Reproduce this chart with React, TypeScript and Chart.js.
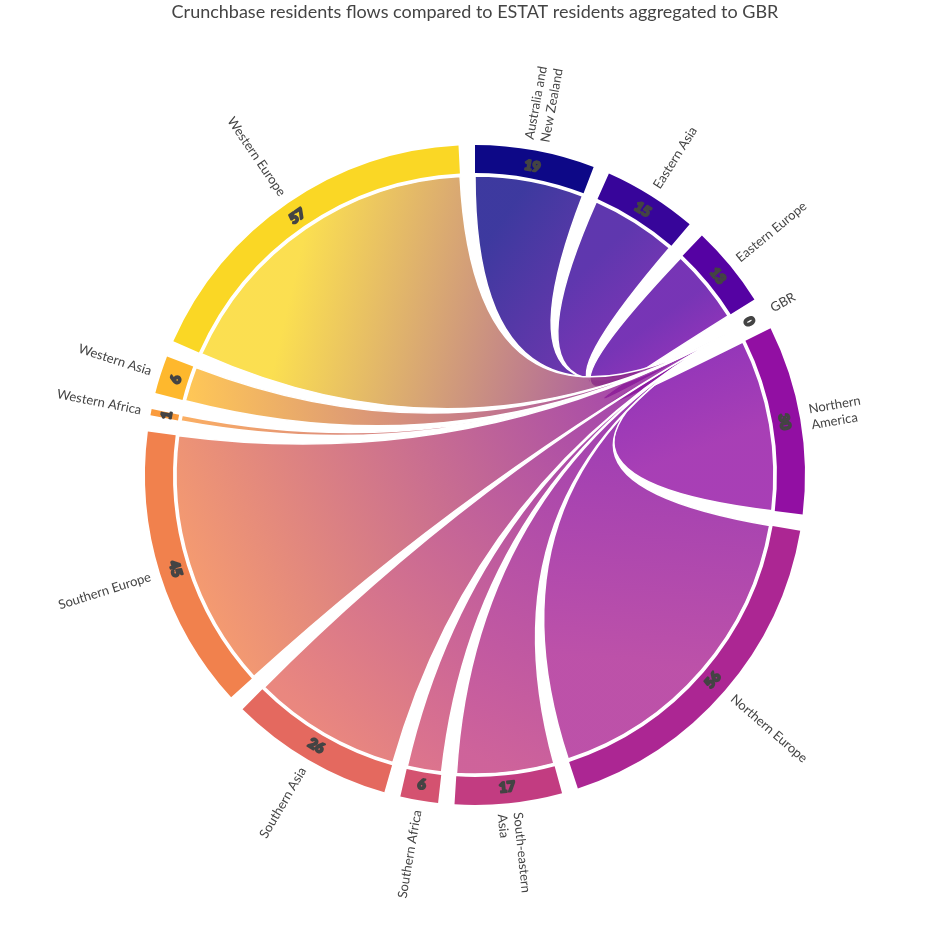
import React, { useEffect, useRef } from 'react';
import { Chart, registerables } from 'chart.js';

Chart.register(...registerables);

const TITLE = 'Crunchbase residents flows compared to ESTAT residents aggregated to GBR';
const REGIONS = [
  'Australia and New Zealand',
  'Eastern Asia',
  'Eastern Europe',
  'GBR',
  'Northern America',
  'Northern Europe',
  'South-eastern Asia',
  'Southern Africa',
  'Southern Asia',
  'Southern Europe',
  'Western Africa',
  'Western Asia',
  'Western Europe',
];
const FLOWS_TO_GBR = [19, 15, 13, 0, 30, 56, 17, 6, 26, 45, 1, 6, 57];
const TARGET = 'GBR';
const COLORS = [
  '#0d0887', '#37059a', '#5502a3', '#7602a8', '#920fa3', '#ac2693', '#c23c81',
  '#d45270', '#e4695f', '#f1814d', '#fa9b3c', '#feb82d', '#fad725',
];
const PAD_ANGLE = 0.05; // radians between groups
const MAX_LINE_CHARS = 15;

function wrap(text: string, max: number): string[] {
  const words = text.split(' ');
  const lines: string[] = [];
  let cur = '';
  for (const w of words) {
    const test = cur ? cur + ' ' + w : w;
    if (test.length > max && cur) {
      lines.push(cur);
      cur = w;
    } else cur = test;
  }
  if (cur) lines.push(cur);
  return lines;
}

const chordPlugin = {
  id: 'chordRibbons',
  beforeDatasetsDraw(chart: any) {
    const meta = chart.getDatasetMeta(0);
    const arcs = meta.data as any[];
    if (!arcs.length) return;
    const ctx = chart.ctx as CanvasRenderingContext2D;
    const cx = arcs[0].x;
    const cy = arcs[0].y;
    const r = arcs[0].innerRadius - 3;
    const tIdx = REGIONS.indexOf(TARGET);
    const ta = arcs[tIdx * 2].startAngle;
    const px = cx + r * Math.cos(ta);
    const py = cy + r * Math.sin(ta);
    ctx.save();
    REGIONS.forEach((_, i) => {
      if (i === tIdx || FLOWS_TO_GBR[i] <= 0) return;
      const a = arcs[i * 2];
      const s0 = a.startAngle;
      const s1 = a.endAngle;
      const mid = (s0 + s1) / 2;
      const mx = cx + r * Math.cos(mid);
      const my = cy + r * Math.sin(mid);
      const grad = ctx.createLinearGradient(mx, my, px, py);
      grad.addColorStop(0, COLORS[i]);
      grad.addColorStop(1, COLORS[tIdx]);
      const sx = cx + r * Math.cos(s0);
      const sy = cy + r * Math.sin(s0);
      ctx.beginPath();
      ctx.moveTo(sx, sy);
      ctx.arc(cx, cy, r, s0, s1);
      ctx.quadraticCurveTo(cx, cy, px, py);
      ctx.quadraticCurveTo(cx, cy, sx, sy);
      ctx.closePath();
      ctx.globalAlpha = 0.8;
      ctx.fillStyle = grad;
      ctx.fill();
      ctx.globalAlpha = 1;
      ctx.strokeStyle = '#ffffff';
      ctx.lineWidth = 1.5;
      ctx.stroke();
    });
    ctx.restore();
  },
  afterDatasetsDraw(chart: any) {
    const meta = chart.getDatasetMeta(0);
    const arcs = meta.data as any[];
    if (!arcs.length) return;
    const ctx = chart.ctx as CanvasRenderingContext2D;
    const cx = arcs[0].x;
    const cy = arcs[0].y;
    ctx.save();
    ctx.fillStyle = '#444444';
    ctx.strokeStyle = '#444444';
    REGIONS.forEach((name, i) => {
      const a = arcs[i * 2];
      const mid = (a.startAngle + a.endAngle) / 2;
      let theta = mid + Math.PI / 2;
      theta = ((theta % (2 * Math.PI)) + 2 * Math.PI) % (2 * Math.PI);
      // value label on ring
      const rm = (a.innerRadius + a.outerRadius) / 2 - 2;
      ctx.save();
      ctx.translate(cx + rm * Math.cos(mid), cy + rm * Math.sin(mid));
      let rot = theta;
      if (theta > Math.PI / 2 && theta < (3 * Math.PI) / 2) rot -= Math.PI;
      ctx.rotate(rot);
      ctx.font = '900 14px Lato';
      ctx.textAlign = 'center';
      ctx.textBaseline = 'middle';
      ctx.lineWidth = 2;
      ctx.lineJoin = 'round';
      ctx.strokeText(String(FLOWS_TO_GBR[i]), 0, 0);
      ctx.fillText(String(FLOWS_TO_GBR[i]), 0, 0);
      ctx.restore();
      // name label
      const lines = wrap(name, MAX_LINE_CHARS);
      const rl = a.outerRadius + 10;
      const right = theta < Math.PI;
      ctx.save();
      ctx.translate(cx + rl * Math.cos(mid), cy + rl * Math.sin(mid));
      ctx.rotate(right ? theta - Math.PI / 2 : theta + Math.PI / 2);
      ctx.font = '13px Lato';
      ctx.textAlign = right ? 'left' : 'right';
      ctx.textBaseline = 'middle';
      lines.forEach((ln, k) => ctx.fillText(ln, 0, (k - (lines.length - 1) / 2) * 16));
      ctx.restore();
    });
    ctx.restore();
  },
};

export default function App() {
  const ref = useRef<HTMLCanvasElement | null>(null);
  useEffect(() => {
    if (!ref.current) return;
    const total = FLOWS_TO_GBR.reduce((s, v) => s + v, 0);
    const gapValue = (total * PAD_ANGLE) / (2 * Math.PI - REGIONS.length * PAD_ANGLE);
    const ringData: number[] = [];
    const ringColors: string[] = [];
    const ringLabels: string[] = [];
    REGIONS.forEach((name, i) => {
      ringData.push(FLOWS_TO_GBR[i]);
      ringColors.push(COLORS[i]);
      ringLabels.push(name);
      ringData.push(gapValue);
      ringColors.push('rgba(0,0,0,0)');
      ringLabels.push('');
    });
    const chart = new Chart(ref.current, {
      type: 'doughnut',
      data: {
        labels: ringLabels,
        datasets: [
          {
            data: ringData,
            backgroundColor: ringColors,
            borderWidth: 0,
          },
        ],
      },
      options: {
        responsive: false,
        animation: false,
        devicePixelRatio: 1,
        events: [],
        radius: 330,
        cutout: '91.5%',
        layout: { padding: { top: 0, bottom: 22.6, left: 0, right: 0 } },
        plugins: {
          legend: { display: false },
          tooltip: { enabled: false },
          title: {
            display: true,
            text: TITLE,
            color: '#444444',
            font: { family: 'Lato', size: 18, weight: 'normal' },
            padding: { top: 1, bottom: 0 },
          },
        },
      } as any,
      plugins: [chordPlugin],
    });
    return () => chart.destroy();
  }, []);
  return (
    <canvas
      ref={ref}
      width={950}
      height={950}
      style={{ position: 'absolute', left: 0, top: 0, width: 950, height: 950, display: 'block' }}
    />
  );
}
